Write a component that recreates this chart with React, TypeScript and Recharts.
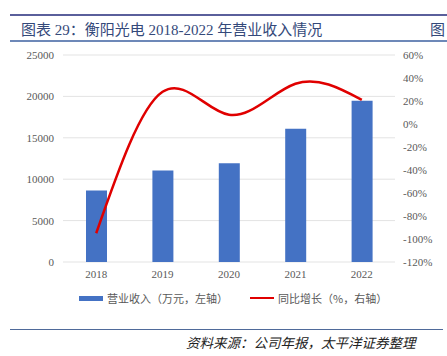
import { ComposedChart, Bar, Line, XAxis, YAxis, CartesianGrid } from 'recharts';

const years = ['2018', '2019', '2020', '2021', '2022'];
const revenue = [8630, 11040, 11930, 16080, 19470];
const growth = [-95, 28, 8, 35, 21];
const leftTicks = [0, 5000, 10000, 15000, 20000, 25000];
const rightTicks = [-120, -100, -80, -60, -40, -20, 0, 20, 40, 60];

const data = years.map((y, i) => ({ year: y, revenue: revenue[i], growth: growth[i] }));

const tickStyle = { fontSize: 11, fill: '#595959', fontFamily: '"Liberation Serif", serif' };

function LegendBox() {
    const txt = { fontSize: 11, color: '#595959', fontFamily: '"Noto Sans CJK SC", sans-serif', marginLeft: 4 };
    return (
        <div style={{ position: 'absolute', left: 79, top: 290, display: 'flex', alignItems: 'center' }}>
            <span style={{ width: 24, height: 5, background: '#4472c4', display: 'inline-block' }} />
            <span style={txt}>营业收入（万元，左轴）</span>
            <span style={{ width: 24, height: 2, background: '#e00000', display: 'inline-block', marginLeft: 22 }} />
            <span style={txt}>同比增长（%，右轴）</span>
        </div>
    );
}

export default function App() {
    return (
        <div style={{ position: 'absolute', left: 0, top: 0, width: 447, height: 356, background: '#fff', overflow: 'hidden' }}>
            <div style={{ position: 'absolute', left: 10, right: 0, top: 14, height: 2, background: '#5a5f9b' }} />
            <div style={{ position: 'absolute', left: 21, top: 18, fontSize: 15, color: '#34497a', fontFamily: '"Liberation Serif", "Noto Sans CJK SC", serif', whiteSpace: 'nowrap' }}>
                图表 29：衡阳光电 2018-2022 年营业收入情况
            </div>
            <div style={{ position: 'absolute', left: 430, top: 18, fontSize: 15, color: '#34497a', fontFamily: '"Noto Sans CJK SC", serif' }}>图</div>
            <div style={{ position: 'absolute', left: 10, right: 0, top: 40, height: 1.5, background: '#6d88b8' }} />

            <div style={{ position: 'absolute', left: 0, top: 0 }}>
                <ComposedChart width={447} height={292} data={data} margin={{ top: 55, right: 0, bottom: 0, left: 0 }}>
                    <CartesianGrid vertical={false} stroke="#e3e3e3" yAxisId="left" />
                    <XAxis dataKey="year" axisLine={false} tickLine={false} tick={tickStyle} tickMargin={2} height={30} />
                    <YAxis yAxisId="left" domain={[0, 25000]} ticks={leftTicks} axisLine={false} tickLine={false} tick={tickStyle} width={63} tickMargin={3} />
                    <YAxis yAxisId="right" orientation="right" domain={[-120, 60]} ticks={rightTicks} tickFormatter={(v) => `${v}%`} axisLine={false} tickLine={false} tick={tickStyle} width={52} tickMargin={2} />
                    <Bar yAxisId="left" dataKey="revenue" fill="#4472c4" barSize={21} isAnimationActive={false} />
                    <Line yAxisId="right" dataKey="growth" type="natural" stroke="#e00000" strokeWidth={2.5} dot={false} isAnimationActive={false} />
                </ComposedChart>
            </div>

            <LegendBox />

            <div style={{ position: 'absolute', left: 10, right: 4, top: 329, height: 1, background: '#4f6a9a' }} />
            <div style={{ position: 'absolute', left: 186, top: 332, fontSize: 13.5, fontStyle: 'italic', color: '#222', fontFamily: '"Noto Sans CJK SC", sans-serif', whiteSpace: 'nowrap' }}>
                资料来源：公司年报，太平洋证券整理
            </div>
        </div>
    );
}
